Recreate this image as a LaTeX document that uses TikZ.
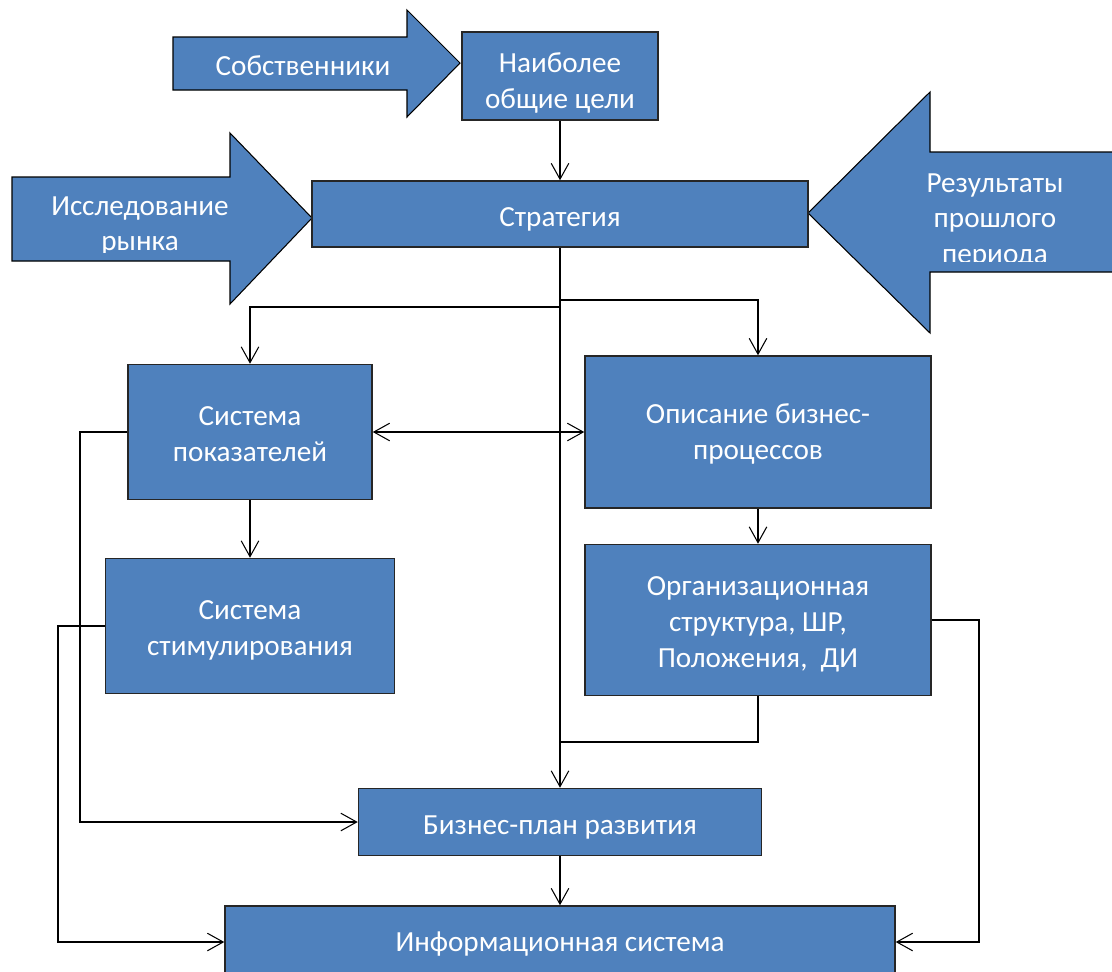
\documentclass[tikz,border=0pt]{standalone}
\usepackage{fontspec}
\setmainfont{Carlito}
\usetikzlibrary{arrows.meta}
\definecolor{boxblue}{RGB}{79,129,189}
\begin{document}
\begin{tikzpicture}[x=0.02cm, y=-0.02cm, font=\fontsize{16.6}{20.4}\selectfont,
  >={Straight Barb[length=9pt, width=10pt]},
  blk/.style={draw=black!85, fill=boxblue, line width=0.9pt, inner sep=0pt},
  bigarr/.style={draw=black, fill=boxblue, line width=0.6pt},
  txt/.style={text=white, align=center, inner sep=0pt},
  lnk/.style={->, line width=0.6pt}]
\clip (0,0) rectangle (1112,971);
\fill[white] (0,0) rectangle (1112,971);
\draw[bigarr] (173,37) -- (407,37) -- (407,10) -- (460,63) -- (407,117) -- (407,90) -- (173,90) -- cycle;
\draw[bigarr] (12,177) -- (230,177) -- (230,133) -- (312,218) -- (230,304) -- (230,261) -- (12,261) -- cycle;
\draw[bigarr] (1120,152) -- (930,152) -- (930,92) -- (808,213) -- (930,333) -- (930,272) -- (1120,272) -- cycle;
\node[txt] (towners) at (303,66) {Собственники};
\begin{scope}
\clip (12,133) rectangle (230,252);
\node[txt] (tmarket) at (140,226) {Исследование\\рынка};
\end{scope}
\begin{scope}
\clip (880,92) rectangle (1112,261);
\node[txt] (tpast) at (995,221) {Результаты\\прошлого\\периода};
\end{scope}
\node[blk, minimum width=3.92cm, minimum height=1.76cm, label={[txt, yshift=-4pt]center:Наиболее\\общие цели}] (goals) at (560,76) {};
\node[blk, minimum width=9.92cm, minimum height=1.32cm, label={[txt, yshift=-2.8pt]center:Стратегия}] (strat) at (560,214) {};
\node[blk, minimum width=4.88cm, minimum height=2.7cm, label={[txt, yshift=-1pt]center:Система\\показателей}] (kpi) at (250,432) {};
\node[blk, minimum width=5.78cm, minimum height=2.7cm, label={[txt, yshift=-2.3pt]center:Система\\стимулирования}] (stim) at (250,626) {};
\node[blk, minimum width=6.92cm, minimum height=3.04cm, label={[txt, yshift=-1pt]center:Описание бизнес-\\процессов}] (proc) at (758,432) {};
\node[blk, minimum width=6.92cm, minimum height=3.02cm, label={[txt, yshift=-2.3pt]center:Организационная\\структура, ШР,\\Положения,\ \ ДИ}] (org) at (758,620) {};
\node[blk, minimum width=8.06cm, minimum height=1.34cm, label={[txt, yshift=-3.4pt]center:Бизнес-план развития}] (plan) at (560,822) {};
\node[blk, minimum width=13.4cm, minimum height=1.44cm, label={[txt, yshift=-1pt]center:Информационная система}] (info) at (560,942) {};
\coordinate (jl) at (560,307);
\coordinate (jr) at (560,300);
\coordinate (jo) at (560,742);
\coordinate (lk) at (80,432);
\coordinate (ls) at (58,626);
\coordinate (ro) at (979,620);
\draw[lnk] (goals.south) -- (strat.north);
\draw[lnk] (strat.south) -- (plan.north);
\draw[lnk] (jl) -| (kpi.north);
\draw[lnk] (jr) -| (proc.north);
\draw[lnk] (kpi.south) -- (stim.north);
\draw[lnk] (proc.south) -- (org.north);
\draw[lnk, <->] (kpi.east) -- (proc.west);
\draw[line width=0.6pt] (org.south) |- (jo);
\draw[lnk] (plan.south) -- (info.north);
\draw[lnk] (kpi.west) -- (lk) |- (plan.west);
\draw[lnk] (stim.west) -- (ls) |- (info.west);
\draw[lnk] (org.east) -- (ro) |- (info.east);
\end{tikzpicture}
\end{document}
